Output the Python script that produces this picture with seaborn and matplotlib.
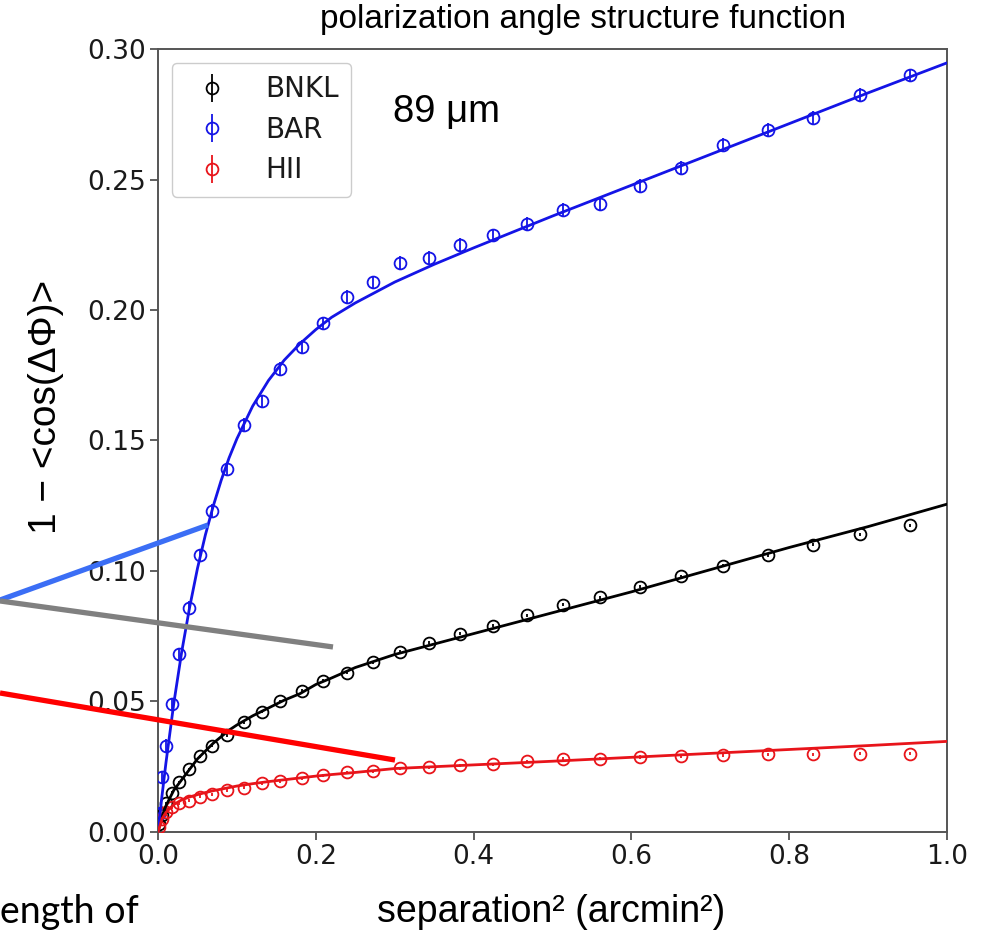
import matplotlib
matplotlib.use("Agg")
import matplotlib.pyplot as plt
from matplotlib.lines import Line2D
import seaborn as sns
import pandas as pd

# ---------------- data ----------------
series_names = ["BNKL", "BAR", "HII"]
series_colors = ["black", "#1414e6", "#e8141a"]

sep2 = [0.0014, 0.005, 0.010, 0.018, 0.027, 0.039, 0.053, 0.068, 0.0875, 0.109,
        0.132, 0.155, 0.182, 0.209, 0.240, 0.273, 0.307, 0.344, 0.383, 0.425,
        0.468, 0.513, 0.560, 0.611, 0.663, 0.716, 0.773, 0.830, 0.890, 0.953]

bnkl = [0.003, 0.0065, 0.011, 0.015, 0.019, 0.024, 0.029, 0.033, 0.037, 0.042,
        0.046, 0.050, 0.054, 0.058, 0.061, 0.065, 0.069, 0.0725, 0.076, 0.079,
        0.083, 0.087, 0.090, 0.094, 0.098, 0.102, 0.106, 0.110, 0.114, 0.1175]

bar = [0.007, 0.021, 0.033, 0.049, 0.068, 0.086, 0.106, 0.123, 0.139, 0.156,
       0.165, 0.1775, 0.186, 0.195, 0.205, 0.2107, 0.218, 0.220, 0.225, 0.2286,
       0.233, 0.2385, 0.2405, 0.2477, 0.2546, 0.2634, 0.269, 0.2737, 0.2824, 0.290]

hii = [0.002, 0.005, 0.0075, 0.0095, 0.011, 0.012, 0.0135, 0.0145, 0.016, 0.017,
       0.0187, 0.0195, 0.0206, 0.0217, 0.0229, 0.0233, 0.0244, 0.0248, 0.0256, 0.026,
       0.027, 0.028, 0.028, 0.0287, 0.029, 0.0294, 0.0297, 0.0297, 0.030, 0.030]

err_bnkl = 0.0006
err_bar = 0.0025
err_hii = 0.0006

# fitted model curves
fit_x = [0.0, 0.005, 0.01, 0.02, 0.03, 0.04, 0.05, 0.06, 0.07, 0.08, 0.09, 0.10,
         0.12, 0.14, 0.16, 0.18, 0.20, 0.22, 0.25, 0.30, 0.35, 0.40, 0.50, 0.60,
         0.70, 0.80, 0.90, 1.00]
fit_bnkl = [0.0, 0.006, 0.010, 0.016, 0.020, 0.024, 0.028, 0.031, 0.034, 0.0365,
            0.039, 0.041, 0.0445, 0.0475, 0.0505, 0.053, 0.0565, 0.059, 0.063, 0.068,
            0.072, 0.076, 0.084, 0.092, 0.1005, 0.109, 0.117, 0.1256]
fit_bar = [0.0, 0.0138, 0.0264, 0.0493, 0.069, 0.086, 0.101, 0.1138, 0.1249, 0.1347,
           0.1433, 0.1507, 0.1632, 0.173, 0.1808, 0.1871, 0.1925, 0.1972, 0.2027, 0.2107,
           0.2175, 0.2238, 0.236, 0.2478, 0.2596, 0.2714, 0.2832, 0.2947]
fit_hii = [0.0, 0.005, 0.0075, 0.0105, 0.0123, 0.0134, 0.0143, 0.0151, 0.0158, 0.0164,
           0.0170, 0.0176, 0.0185, 0.0193, 0.0200, 0.0207, 0.0214, 0.0220, 0.0228, 0.0243,
           0.0250, 0.0257, 0.0271, 0.0286, 0.0301, 0.0316, 0.0331, 0.0347]

x_ticks = [0.0, 0.2, 0.4, 0.6, 0.8, 1.0]
y_ticks = [0.00, 0.05, 0.10, 0.15, 0.20, 0.25, 0.30]

# ---------------- style ----------------
sns.set_theme(style="ticks")
plt.rcParams["font.family"] = ["DejaVu Sans"]
plt.rcParams["text.color"] = "black"
ARIAL = ["Liberation Sans", "DejaVu Sans"]

fig = plt.figure(figsize=(9.84, 9.39), dpi=100)
ax = fig.add_axes([0.1606, 0.1140, 0.8018, 0.8338])

points = [(bnkl, err_bnkl, fit_bnkl), (bar, err_bar, fit_bar), (hii, err_hii, fit_hii)]
for name, col, (vals, err, fit) in zip(series_names, series_colors, points):
    ax.errorbar(sep2, vals, yerr=err, fmt="o", mfc="none", mec=col, ecolor=col,
                ms=8.5, mew=1.3, elinewidth=1.3, label=name, zorder=3)
    df = pd.DataFrame({"x": fit_x, "y": fit})
    sns.lineplot(data=df, x="x", y="y", color=col, lw=2.0, ax=ax,
                 estimator=None, sort=False, legend=False, zorder=4)

ax.set_xlim(0.0, 1.0)
ax.set_ylim(0.0, 0.30)
ax.set_xticks(x_ticks)
ax.set_yticks(y_ticks)
ax.set_xticklabels([f"{v:.1f}" for v in x_ticks])
ax.set_yticklabels([f"{v:.2f}" for v in y_ticks])
ax.tick_params(labelsize=19, length=6, width=1.2, color="#444444", labelcolor="#1a1a1a", pad=3)
for sp in ax.spines.values():
    sp.set_color("#555555")
    sp.set_linewidth(1.4)
ax.set_xlabel("")
ax.set_ylabel("")

leg = ax.legend(loc="upper left", fontsize=20, frameon=True, fancybox=True,
                edgecolor="#cccccc", framealpha=1.0, borderpad=0.45,
                labelspacing=0.45, handletextpad=0.9, borderaxespad=0.5)
for t in leg.get_texts():
    t.set_color("#1a1a1a")

# texts
fig.text(0.5925, 0.979, "polarization angle structure function", ha="center", va="center",
         family=ARIAL, fontsize=24, color="black")
fig.text(0.3994, 0.870, "89 μm", ha="left", va="baseline", family=ARIAL, fontsize=27.5,
         color="black")
fig.text(0.5600, 0.018, "separation² (arcmin²)", ha="center", va="baseline",
         family=ARIAL, fontsize=27, color="black")
fig.text(0.047, 0.567, "1 − <cos(ΔΦ)>", ha="center", va="center", rotation=90,
         family=ARIAL, fontsize=28, color="black")
fig.text(0.0, 0.017, "ength of", ha="left", va="baseline",
         family=["Lato", "DejaVu Sans"], fontsize=27, color="black")

# annotation lines extending to the left of the panel
fig.add_artist(Line2D([0.0, 0.2114], [0.361, 0.4409], transform=fig.transFigure,
                      color="#3b6ef5", lw=3.8, solid_capstyle="butt", zorder=10))
fig.add_artist(Line2D([0.0, 0.3384], [0.360, 0.311], transform=fig.transFigure,
                      color="#808080", lw=3.8, solid_capstyle="butt", zorder=10))
fig.add_artist(Line2D([0.0, 0.4014], [0.262, 0.1906], transform=fig.transFigure,
                      color="#ff0000", lw=3.8, solid_capstyle="butt", zorder=10))

fig.savefig("out.png", dpi=100)
